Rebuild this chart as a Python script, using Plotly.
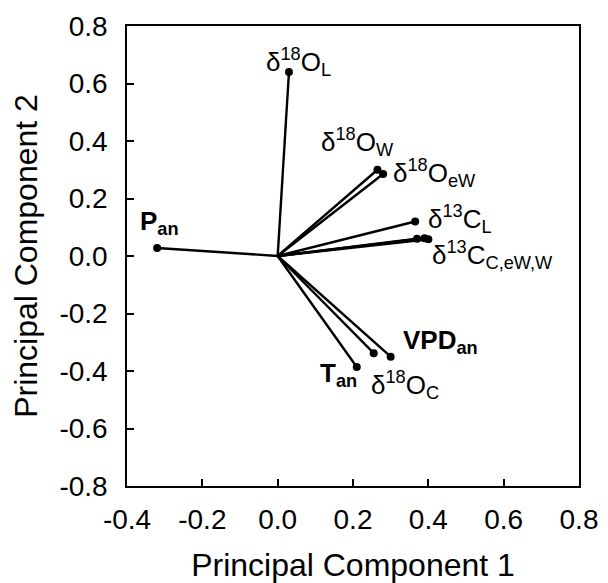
import plotly.graph_objects as go

labels = ["δ<sup>18</sup>O<sub>L</sub>", "δ<sup>18</sup>O<sub>W</sub>", "δ<sup>18</sup>O<sub>eW</sub>",
          "δ<sup>13</sup>C<sub>L</sub>", "δ<sup>13</sup>C<sub>C,eW,W</sub>", "",
          "", "<b>P<sub>an</sub></b>", "<b>T<sub>an</sub></b>", "δ<sup>18</sup>O<sub>C</sub>",
          "<b>VPD<sub>an</sub></b>"]
pc1 = [0.03, 0.265, 0.28, 0.365, 0.39, 0.37, 0.40, -0.32, 0.21, 0.255, 0.30]
pc2 = [0.64, 0.30, 0.285, 0.12, 0.062, 0.06, 0.058, 0.028, -0.386, -0.338, -0.35]
label_dx = [-25, -58, 8, 11, 5, 0, 0, -19, -39, -5, 10]
label_dy = [10, 28, 1, 3, -17, 0, 0, 25, -8, -32, 15]

xticks = [-0.4, -0.2, 0.0, 0.2, 0.4, 0.6, 0.8]
yticks = [-0.8, -0.6, -0.4, -0.2, 0.0, 0.2, 0.4, 0.6, 0.8]

lx, ly = [], []
for a, b in zip(pc1, pc2):
    lx += [0, a, None]
    ly += [0, b, None]

fig = go.Figure()
fig.add_trace(go.Scatter(x=lx, y=ly, mode="lines", line=dict(color="black", width=2.4),
                         hoverinfo="skip", showlegend=False))
fig.add_trace(go.Scatter(x=pc1, y=pc2, mode="markers", marker=dict(color="black", size=8),
                         showlegend=False))

for t, a, b, dx, dy in zip(labels, pc1, pc2, label_dx, label_dy):
    if not t:
        continue
    fig.add_annotation(x=a, y=b, text=t, showarrow=False, xanchor="left", yanchor="middle",
                       xshift=dx, yshift=dy, font=dict(family="Liberation Sans, Arial", size=26, color="black"))

axis_common = dict(showgrid=False, zeroline=False, showline=True, linecolor="black", linewidth=1.5,
                   mirror=True, ticks="inside", ticklen=7, tickwidth=1.5, tickcolor="black",
                   automargin=False,
                   tickfont=dict(family="Liberation Sans, Arial", size=28, color="black"))

fig.update_xaxes(range=[-0.4, 0.8], tickvals=xticks, ticktext=[f"{v:.1f}" for v in xticks],
                 title=dict(text="Principal Component 1", font=dict(family="Liberation Sans, Arial", size=32, color="black"), standoff=30),
                 ticklabelstandoff=8, **axis_common)
fig.update_yaxes(range=[-0.8, 0.8], tickvals=yticks, ticktext=[f"{v:.1f}" for v in yticks],
                 title=dict(text="Principal Component 2", font=dict(family="Liberation Sans, Arial", size=32, color="black"), standoff=12),
                 ticklabelstandoff=12, **axis_common)

fig.update_layout(width=608, height=583, margin=dict(l=127, r=29, t=26, b=97),
                  plot_bgcolor="white", paper_bgcolor="white")

fig.write_html("out.html")
